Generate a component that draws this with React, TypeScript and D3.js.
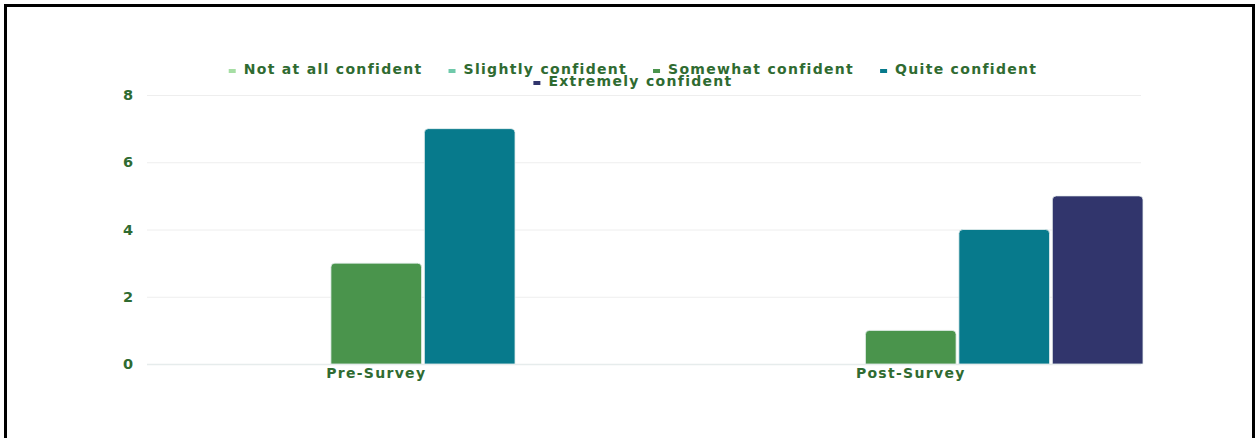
import React, { useEffect, useRef } from "react";
import * as d3 from "d3";

const categories = ["Pre-Survey", "Post-Survey"];
const seriesNames = [
  "Not at all confident",
  "Slightly confident",
  "Somewhat confident",
  "Quite confident",
  "Extremely confident",
];
const preValues = [0, 0, 3, 7, 0];
const postValues = [0, 0, 1, 4, 5];
const seriesColors = ["#a6dea4", "#6fc9aa", "#4a944c", "#077a8c", "#31356c"];
const yTicks = [0, 2, 4, 6, 8];

const W = 1255;
const H = 438;
const TEXT = "#2f6b31";
const FONT = "'DejaVu Sans', sans-serif";
const FS = 14;
const LS = 1.3;

export default function App() {
  const ref = useRef<SVGSVGElement>(null);

  useEffect(() => {
    const svg = d3.select(ref.current);
    svg.selectAll("*").remove();

    const styleText = (sel: any) =>
      sel
        .attr("font-family", FONT)
        .attr("font-weight", "bold")
        .attr("font-size", FS)
        .attr("letter-spacing", LS)
        .attr("fill", TEXT);

    svg.append("rect").attr("width", W).attr("height", H).attr("fill", "#fff");
    // frame
    svg
      .append("rect")
      .attr("x", 5.5)
      .attr("y", 5.5)
      .attr("width", 1248)
      .attr("height", H + 20)
      .attr("fill", "none")
      .attr("stroke", "#000")
      .attr("stroke-width", 3);

    const left = 147;
    const right = 1141;
    const top = 95;
    const bottom = 364;

    const y = d3.scaleLinear().domain([0, 8]).range([bottom, top]);
    const x0 = d3.scaleBand().domain(categories).range([left - 3, right + 2]).paddingInner(0.131).paddingOuter(0);
    const x1 = d3.scaleBand().domain(seriesNames).range([0, x0.bandwidth()]).paddingInner(0.03).paddingOuter(0);

    const data = [
      { cat: categories[0], values: preValues },
      { cat: categories[1], values: postValues },
    ];

    // gridlines
    svg
      .append("g")
      .selectAll("line")
      .data(yTicks)
      .join("line")
      .attr("x1", left)
      .attr("x2", right)
      .attr("y1", (d) => y(d) + 0.5)
      .attr("y2", (d) => y(d) + 0.5)
      .attr("stroke", (d) => (d === 0 ? "#e6ecec" : "#eeeeee"))
      .attr("stroke-width", (d) => (d === 0 ? 1.5 : 1));

    // y tick labels
    svg
      .append("g")
      .selectAll("text")
      .data(yTicks)
      .join("text")
      .attr("x", 133)
      .attr("y", (d) => y(d))
      .attr("dy", "0.36em")
      .attr("text-anchor", "end")
      .call(styleText)
      .attr("letter-spacing", 0)
      .attr("font-size", 14.5)
      .text((d) => String(d));

    // bars
    const r = 4;
    const barPath = (x: number, yTop: number, w: number, yBase: number) => {
      const h = yBase - yTop;
      const rr = Math.min(r, h / 2, w / 2);
      return `M${x},${yBase}V${yTop + rr}Q${x},${yTop} ${x + rr},${yTop}H${x + w - rr}Q${x + w},${yTop} ${x + w},${yTop + rr}V${yBase}Z`;
    };
    const groups = svg
      .append("g")
      .selectAll("g")
      .data(data)
      .join("g")
      .attr("transform", (d) => `translate(${x0(d.cat)},0)`);
    groups
      .selectAll("path")
      .data((d) => d.values.map((v, i) => ({ v, name: seriesNames[i], i })).filter((e) => e.v > 0))
      .join("path")
      .attr("d", (e) => barPath(x1(e.name)!, y(e.v), x1.bandwidth(), y(0)))
      .attr("fill", (e) => seriesColors[e.i])
      .attr("stroke", "#e8f0f0")
      .attr("stroke-width", 0.8);

    // x labels
    svg
      .append("g")
      .selectAll("text")
      .data(categories)
      .join("text")
      .attr("x", (d) => x0(d)! + x0.bandwidth() / 2)
      .attr("y", 378)
      .attr("text-anchor", "middle")
      .call(styleText)
      .text((d) => d);

    // legend
    const lg = svg.append("g");
    const measure = (t: string) => {
      const tmp = lg.append("text").call(styleText).text(t);
      const w = (tmp.node() as SVGTextElement).getComputedTextLength();
      tmp.remove();
      return w;
    };
    const markerW = 7;
    const markerGap = 8;
    const itemGap = 26;
    const rows = [[0, 1, 2, 3], [4]];
    const rowY = [74, 86];
    const centerX = 633;
    rows.forEach((row, ri) => {
      const widths = row.map((i) => markerW + markerGap + measure(seriesNames[i]));
      const total = d3.sum(widths) + itemGap * (row.length - 1);
      let cx = centerX - total / 2;
      row.forEach((i, k) => {
        lg.append("rect")
          .attr("x", cx)
          .attr("y", rowY[ri] - 5)
          .attr("width", markerW)
          .attr("height", 4)
          .attr("fill", seriesColors[i]);
        lg.append("text")
          .attr("x", cx + markerW + markerGap)
          .attr("y", rowY[ri])
          .call(styleText)
          .text(seriesNames[i]);
        cx += widths[k] + itemGap;
      });
    });
  }, []);

  return (
    <svg
      ref={ref}
      width={W}
      height={H}
      style={{ position: "absolute", left: 0, top: 0, display: "block" }}
    />
  );
}
